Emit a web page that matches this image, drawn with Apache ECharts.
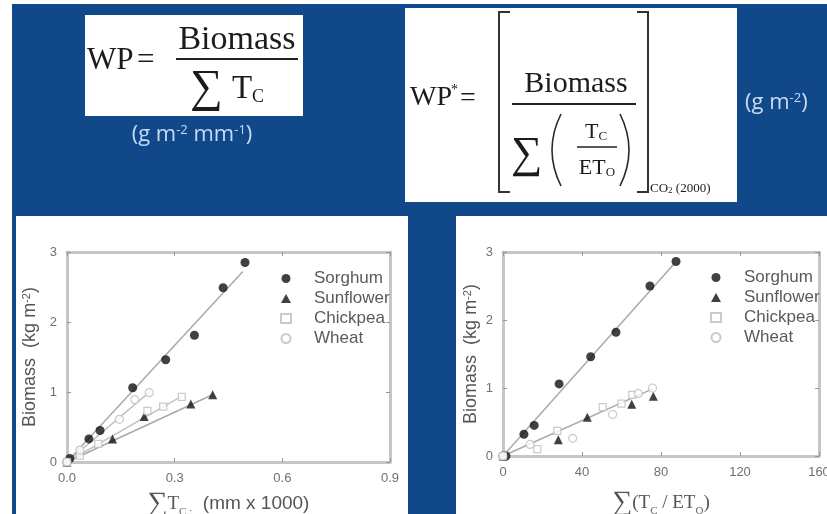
<!DOCTYPE html>
<html>
<head>
<meta charset="utf-8">
<script src="https://cdn.jsdelivr.net/npm/echarts@6/dist/echarts.min.js"></script>
<style>
  html, body { margin: 0; padding: 0; background: #ffffff; }
  #chart { width: 827px; height: 514px; }
</style>
</head>
<body>
<div id="chart"></div>
<script>
// ---- Left panel: biomass vs cumulative transpiration (mm x 1000) ----
const sorghumTc   = [0.0, 0.008, 0.061, 0.092, 0.183, 0.275, 0.355, 0.435, 0.496];
const sorghumBioL = [0.0, 0.05, 0.33, 0.45, 1.06, 1.46, 1.81, 2.49, 2.85];
const sunflowerTc   = [0.0, 0.127, 0.215, 0.345, 0.406];
const sunflowerBioL = [0.0, 0.33, 0.65, 0.83, 0.96];
const chickpeaTc   = [0.0, 0.036, 0.087, 0.224, 0.268, 0.320];
const chickpeaBioL = [0.0, 0.09, 0.26, 0.73, 0.79, 0.93];
const wheatTc   = [0.0, 0.036, 0.146, 0.189, 0.229];
const wheatBioL = [0.0, 0.17, 0.61, 0.89, 0.99];
// regression line end points [x, y] (lines start at the origin)
const fitEndL = {
  Sorghum:   [0.490, 2.72],
  Sunflower: [0.405, 0.96],
  Chickpea:  [0.320, 0.94],
  Wheat:     [0.230, 1.00]
};

// ---- Right panel: biomass vs cumulative normalised transpiration ----
const sorghumNorm   = [0.0, 1.5, 10.6, 15.8, 28.4, 44.4, 57.2, 74.4, 87.6];
const sorghumBioR   = [0.0, 0.0, 0.32, 0.45, 1.06, 1.46, 1.82, 2.50, 2.86];
const sunflowerNorm = [0.0, 28.0, 42.7, 65.2, 76.1];
const sunflowerBioR = [0.0, 0.24, 0.57, 0.76, 0.88];
const chickpeaNorm  = [0.0, 17.4, 27.5, 50.5, 60.0, 65.5];
const chickpeaBioR  = [0.0, 0.10, 0.37, 0.72, 0.77, 0.90];
const wheatNorm     = [0.0, 13.7, 35.3, 55.5, 68.5, 75.7];
const wheatBioR     = [0.0, 0.17, 0.26, 0.61, 0.92, 1.00];
const fitEndR = {
  Sorghum: [87.0, 2.84],
  C3:      [76.0, 0.99]
};

// ---- axis ticks ----
const yTicks = [0, 1, 2, 3];
const xTicksL = [0.0, 0.3, 0.6, 0.9];
const xTicksR = [0, 40, 80, 120, 160];

const cropNames = ['Sorghum', 'Sunflower', 'Chickpea', 'Wheat'];

const pairs = (xs, ys) => xs.map((x, i) => [x, ys[i]]);

const BLUE = '#10488a';
const FRAME = '#c6c6c6';
const TICKTXT = '#707070';
const SERIF = "'Liberation Serif', 'DejaVu Serif', serif";
const SANS = "'Liberation Sans', Arial, sans-serif";
const CAL = "'Open Sans', 'Noto Sans', sans-serif";

const markStyle = {
  Sorghum:   { symbol: 'circle',   symbolSize: 9, itemStyle: { color: '#111' } },
  Sunflower: { symbol: 'triangle', symbolSize: 9, itemStyle: { color: '#111' } },
  Chickpea:  { symbol: 'rect',     symbolSize: 7, itemStyle: { color: '#fff', borderColor: '#bdbdbd', borderWidth: 1.2 } },
  Wheat:     { symbol: 'circle',   symbolSize: 8, itemStyle: { color: '#fff', borderColor: '#bdbdbd', borderWidth: 1.2 } }
};

function scatter(name, data, gi) {
  return Object.assign({
    type: 'scatter', name: name, data: data,
    xAxisIndex: gi * 2, yAxisIndex: gi * 2, z: 3, silent: true
  }, markStyle[name]);
}
function fit(end, gi, color) {
  return {
    type: 'line', data: [[0, 0], end], xAxisIndex: gi * 2, yAxisIndex: gi * 2,
    symbol: 'none', silent: true, z: 2,
    lineStyle: { color: color || '#a9a9a9', width: 1.5 }
  };
}

function mainX(gi, max, interval, fmt, nameRich, name, gap) {
  return {
    type: 'value', gridIndex: gi, position: 'bottom', min: 0, max: max, interval: interval,
    axisLine: { show: true, onZero: false, lineStyle: { color: FRAME, width: 3 } },
    axisTick: { show: true, inside: true, length: 4, lineStyle: { color: '#999' } },
    axisLabel: { color: TICKTXT, fontSize: 13, fontFamily: SANS, margin: 10, formatter: fmt },
    splitLine: { show: false },
    name: name, nameLocation: 'middle', nameGap: gap,
    nameTextStyle: { color: '#555', rich: nameRich }
  };
}
function decoX(gi, max, interval) {
  return {
    type: 'value', gridIndex: gi, position: 'top', min: 0, max: max, interval: interval,
    axisLine: { show: true, onZero: false, lineStyle: { color: FRAME, width: 3 } },
    axisTick: { show: true, inside: true, length: 4, lineStyle: { color: '#999' } },
    axisLabel: { show: false }, splitLine: { show: false }
  };
}
const yName = 'Biomass  (kg m{sup|-2})';
const yRich = {
  sup: { fontSize: 11, fontFamily: SANS, color: '#555', verticalAlign: 'top', padding: [0, 0, 8, 0] }
};
function mainY(gi, gap) {
  return {
    type: 'value', gridIndex: gi, position: 'left', min: 0, max: 3, interval: 1,
    axisLine: { show: true, onZero: false, lineStyle: { color: FRAME, width: 3 } },
    axisTick: { show: true, inside: true, length: 4, lineStyle: { color: '#999' } },
    axisLabel: { color: TICKTXT, fontSize: 13, fontFamily: SANS, margin: 10,
                 formatter: v => (yTicks.indexOf(v) >= 0 ? String(v) : '') },
    splitLine: { show: false },
    name: yName, nameLocation: 'middle', nameGap: gap, nameRotate: 90,
    nameTextStyle: { color: '#555', fontSize: 18, fontFamily: SANS, rich: yRich }
  };
}
function decoY(gi) {
  return {
    type: 'value', gridIndex: gi, position: 'right', min: 0, max: 3, interval: 1,
    axisLine: { show: true, onZero: false, lineStyle: { color: FRAME, width: 3 } },
    axisTick: { show: true, inside: true, length: 4, lineStyle: { color: '#999' } },
    axisLabel: { show: false }, splitLine: { show: false }
  };
}

const xNameL = '{sig|∑}{t|T}{sub|C :}{n|  (mm x 1000)}';
const xRichL = {
  sig: { fontSize: 28, fontFamily: SERIF, color: '#555' },
  t:   { fontSize: 19, fontFamily: SERIF, color: '#555' },
  sub: { fontSize: 11, fontFamily: SERIF, color: '#666', verticalAlign: 'bottom', padding: [0, 0, 0, 0] },
  n:   { fontSize: 19, fontFamily: SANS, color: '#555' }
};
const xNameR = '{sig|∑}{t|(T}{sub|C}{t| / ET}{sub|O}{t|)}';
const xRichR = {
  sig: { fontSize: 28, fontFamily: SERIF, color: '#555' },
  t:   { fontSize: 19, fontFamily: SERIF, color: '#555' },
  sub: { fontSize: 11, fontFamily: SERIF, color: '#666', verticalAlign: 'bottom' }
};

function legend(left, top) {
  return {
    data: cropNames.map(n => ({ name: n })),
    orient: 'vertical', left: left, top: top, itemGap: 3,
    itemWidth: 10, itemHeight: 9, selectedMode: false,
    textStyle: { color: '#5a5a5a', fontSize: 17, fontFamily: SANS, lineHeight: 17, padding: [0, 0, 0, 18] }
  };
}

function txt(x, y, text, size, opts) {
  return {
    type: 'text', x: x, y: y, silent: true, z: 5,
    style: Object.assign({
      text: text, fontSize: size, fontFamily: SERIF, fill: '#1c1c1c',
      align: 'left', verticalAlign: 'middle'
    }, opts || {})
  };
}
const subRich = (size) => ({
  sub: { fontSize: size, fontFamily: SERIF, fill: '#1c1c1c', color: '#1c1c1c', verticalAlign: 'bottom' }
});
function curve(x1, y1, cx, cy, x2, y2) {
  return {
    type: 'bezierCurve', silent: true, z: 5,
    shape: { x1: x1, y1: y1, cpx1: cx, cpy1: cy, x2: x2, y2: y2 },
    style: { stroke: '#2a2a2a', lineWidth: 1.6, fill: null }
  };
}

const graphics = [
  // slide background and white panels
  { type: 'rect', shape: { x: 12, y: 4, width: 815, height: 510 }, style: { fill: BLUE }, z: -10, silent: true },
  { type: 'rect', shape: { x: 16, y: 216, width: 392, height: 298 }, style: { fill: '#fff' }, z: -9, silent: true },
  { type: 'rect', shape: { x: 456, y: 216, width: 371, height: 298 }, style: { fill: '#fff' }, z: -9, silent: true },
  { type: 'rect', shape: { x: 85, y: 15, width: 218, height: 101 }, style: { fill: '#fff' }, z: -9, silent: true },
  { type: 'rect', shape: { x: 405, y: 8, width: 332, height: 194 }, style: { fill: '#fff' }, z: -9, silent: true },

  // WP = Biomass / ΣTc
  txt(87, 61, 'WP', 31),
  txt(137, 61, '=', 31),
  txt(237, 40, 'Biomass', 34, { align: 'center' }),
  { type: 'line', shape: { x1: 176, y1: 59, x2: 298, y2: 59 }, style: { stroke: '#222', lineWidth: 2 }, z: 5, silent: true },
  txt(190, 89, '∑', 46),
  txt(232, 89, 'T', 33),
  txt(252, 97, 'C', 18),
  txt(192, 135, '(g m{s|-2} mm{s|-1})', 22, {
    align: 'center', fontFamily: CAL, fill: '#c7dbf1',
    rich: { s: { fontSize: 13, fontFamily: CAL, fill: '#c7dbf1', color: '#c7dbf1', verticalAlign: 'top' } }
  }),

  // WP* = [ Biomass / Σ(Tc/ETo) ] CO2(2000)
  txt(410, 98, 'WP', 28),
  txt(451, 90, '*', 14),
  txt(460, 99, '=', 28),
  { type: 'polyline', shape: { points: [[510, 12], [499, 12], [499, 192], [510, 192]] }, style: { stroke: '#333', lineWidth: 2, fill: null }, z: 5, silent: true },
  { type: 'polyline', shape: { points: [[637, 12], [648, 12], [648, 192], [637, 192]] }, style: { stroke: '#333', lineWidth: 2, fill: null }, z: 5, silent: true },
  txt(576, 84, 'Biomass', 30, { align: 'center' }),
  { type: 'line', shape: { x1: 512, y1: 104, x2: 636, y2: 104 }, style: { stroke: '#222', lineWidth: 2 }, z: 5, silent: true },
  txt(511, 155, '∑', 44),
  curve(561, 114, 543, 150, 561, 186),
  curve(620, 114, 638, 150, 620, 186),
  txt(596, 132, 'T{sub|C}', 22, { align: 'center', rich: subRich(13) }),
  { type: 'line', shape: { x1: 577, y1: 147, x2: 617, y2: 147 }, style: { stroke: '#222', lineWidth: 1.5 }, z: 5, silent: true },
  txt(597, 168, 'ET{sub|O}', 22, { align: 'center', rich: subRich(13) }),
  txt(650, 189, 'CO{sub|2} (2000)', 13, { rich: subRich(9) }),
  txt(745, 103, '(g m{s|-2})', 22, {
    fontFamily: CAL, fill: '#c7dbf1',
    rich: { s: { fontSize: 13, fontFamily: CAL, fill: '#c7dbf1', color: '#c7dbf1', verticalAlign: 'top' } }
  })
];

const option = {
  backgroundColor: '#ffffff',
  animation: false,
  grid: [
    { left: 67, top: 252, width: 323, height: 210, containLabel: false, outerBoundsMode: 'none' },
    { left: 503, top: 252, width: 316, height: 204, containLabel: false, outerBoundsMode: 'none' }
  ],
  xAxis: [
    mainX(0, 0.9, 0.3, v => (xTicksL.indexOf(+v.toFixed(1)) >= 0 ? v.toFixed(1) : ''), xRichL, xNameL, 28),
    decoX(0, 0.9, 0.3),
    mainX(1, 160, 40, v => (xTicksR.indexOf(v) >= 0 ? String(v) : ''), xRichR, xNameR, 33),
    decoX(1, 160, 40)
  ],
  yAxis: [mainY(0, 27), decoY(0), mainY(1, 22), decoY(1)],
  legend: [legend(275, 265), legend(705, 264)],
  graphic: { elements: graphics },
  series: [
    fit(fitEndL.Sorghum, 0), fit(fitEndL.Sunflower, 0), fit(fitEndL.Chickpea, 0, '#c4c4c4'), fit(fitEndL.Wheat, 0, '#bcbcbc'),
    scatter('Sorghum',   pairs(sorghumTc, sorghumBioL), 0),
    scatter('Sunflower', pairs(sunflowerTc, sunflowerBioL), 0),
    scatter('Chickpea',  pairs(chickpeaTc, chickpeaBioL), 0),
    scatter('Wheat',     pairs(wheatTc, wheatBioL), 0),

    fit(fitEndR.Sorghum, 1), fit(fitEndR.C3, 1),
    scatter('Sorghum',   pairs(sorghumNorm, sorghumBioR), 1),
    scatter('Sunflower', pairs(sunflowerNorm, sunflowerBioR), 1),
    scatter('Chickpea',  pairs(chickpeaNorm, chickpeaBioR), 1),
    scatter('Wheat',     pairs(wheatNorm, wheatBioR), 1)
  ]
};

const chart = echarts.init(document.getElementById('chart'), null, { renderer: 'canvas' });
chart.setOption(option);
</script>
</body>
</html>
